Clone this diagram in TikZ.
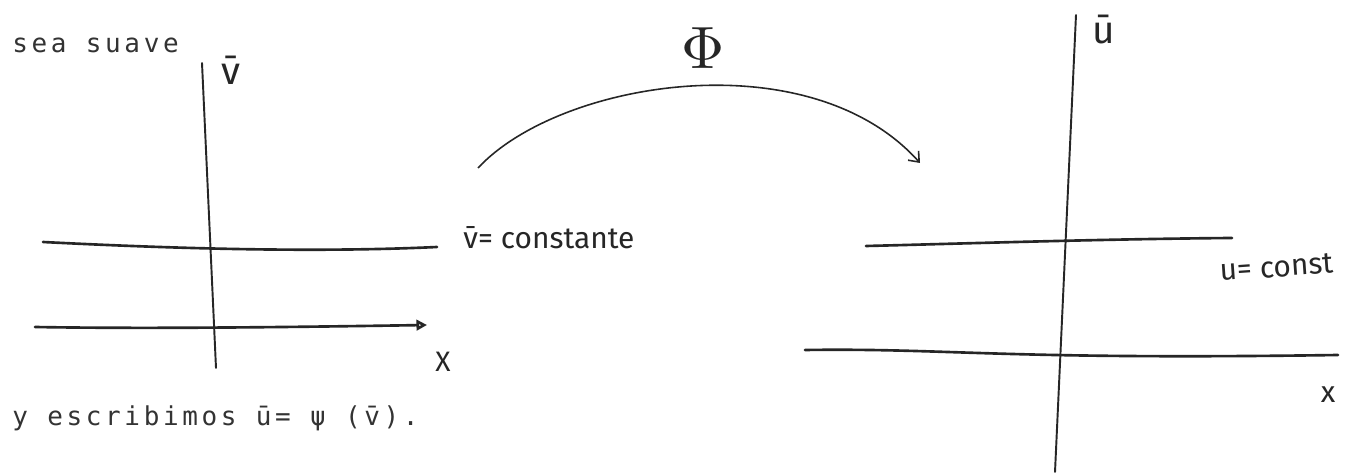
\documentclass[tikz,border=0pt]{standalone}
\usepackage{fontspec}
\usetikzlibrary{arrows.meta,positioning}
\newfontfamily\typedfont[LetterSpace=14]{DejaVu Sans Mono}
\newfontfamily\handfont{Fira Sans}

\begin{document}
\begin{tikzpicture}[x=0.02cm, y=-0.02cm,
    typed/.style={font=\typedfont\fontsize{14.8}{18}\selectfont, anchor=base west, inner sep=0pt, text=black!80},
    hand/.style={font=\handfont\fontsize{#1}{#1}\selectfont, inner sep=0pt, text=black!85},
    hand/.default=17,
    axisline/.style={line width=1.1pt, line cap=round, draw=black!85},
    levelline/.style={line width=1.5pt, line cap=round, draw=black!85}]
  \useasboundingbox[fill=white] (0,0) rectangle (1349,475);

  \node[typed] (seasuave) at (12,53) {sea suave};
  \node[typed] (escribimos) at (12,426) {y escribimos \=u= ψ (\=v).};

  % left plane
  \coordinate (vtop) at (202,63);
  \coordinate (vbot) at (216,368);
  \draw[axisline] (vtop) -- (vbot);
  \node[hand=22] (vlabel) at (231,70) {\=v};

  \coordinate (vca) at (43,242);
  \coordinate (vcb) at (437,247);
  \draw[levelline] (vca) .. controls (200,250) and (330,252) .. (vcb);
  \node[hand, anchor=base west] (vconst) at (463,249) {\=v= constante};

  \coordinate (xa) at (35,327);
  \coordinate (xb) at (427,325);
  \draw[levelline, -{Triangle[open, length=6pt, width=6pt]}] (xa) .. controls (150,329) and (300,327) .. (xb);
  \node[hand=16] (xleft) at (443,362) {X};

  % the map
  \coordinate (phistart) at (478,168);
  \coordinate (phiend) at (920,163);
  \draw[line width=0.9pt, draw=black!85, -{Straight Barb[length=5pt, width=8pt]}] (phistart) .. controls (560,80) and (810,40) .. (phiend);
  \node[scale=3.4, text=black!85] (phi) at (703,48) {$\Phi$};

  % right plane
  \coordinate (utop) at (1076,15);
  \coordinate (ubot) at (1055,472);
  \draw[axisline] (utop) -- (ubot);
  \node[hand=22] (ulabel) at (1104,30) {\=u};

  \coordinate (uca) at (866,246);
  \coordinate (ucb) at (1232,238);
  \draw[levelline] (uca) .. controls (950,244) and (1100,239) .. (ucb);
  \node[hand, anchor=base west, rotate=4] (uconst) at (1220,281) {u= const};

  \coordinate (xra) at (805,350);
  \coordinate (xrb) at (1338,355);
  \draw[levelline] (xra) .. controls (950,348) and (1000,360) .. (xrb);
  \node[hand] (xright) at (1328,395) {x};
\end{tikzpicture}
\end{document}
